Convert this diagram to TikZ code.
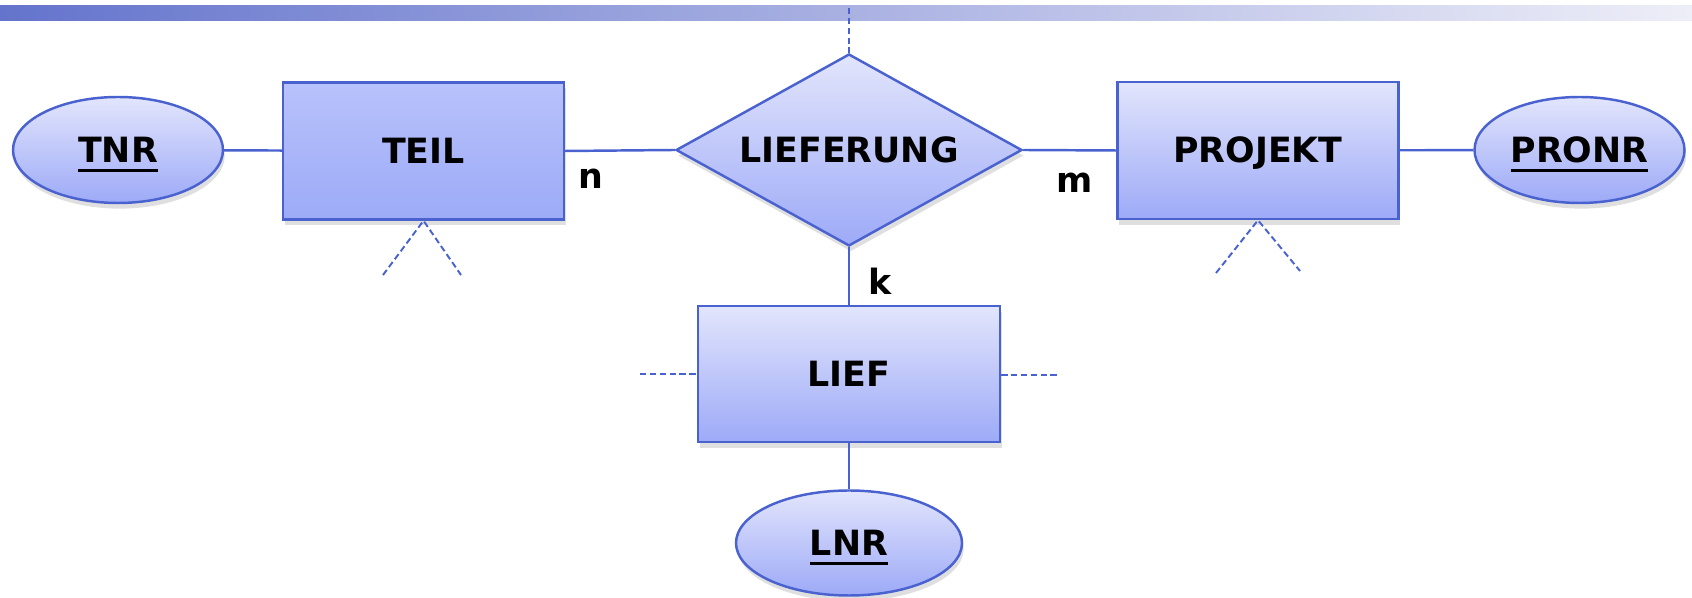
\documentclass[tikz,border=0pt]{standalone}
\usepackage{fontspec}
\setmainfont{DejaVu Sans}
\usetikzlibrary{shapes.geometric,shadows}

\definecolor{erline}{HTML}{4A62D0}
\definecolor{erlight}{HTML}{E2E5FC}
\definecolor{erdark}{HTML}{9DAAF7}
\definecolor{teiltop}{HTML}{B8C2FB}
\definecolor{barleft}{HTML}{6474CC}
\definecolor{barright}{HTML}{EEEEF8}

% underlined key attribute
\newcommand{\keyattr}[1]{\setbox0\hbox{#1}\rlap{#1}\smash{\raisebox{-2.7pt}{\rule{\wd0}{0.85pt}}}}

\begin{document}
\begin{tikzpicture}[
  font=\fontsize{9.9}{12}\selectfont\bfseries,
  shade box/.style={draw=erline, line width=0.7pt, top color=erlight, bottom color=erdark,
    text height=0.70em, text depth=0pt,
    drop shadow={shadow xshift=0.5pt, shadow yshift=-1.6pt, opacity=0.25}},
  entity/.style={shade box, rectangle, inner sep=0pt, minimum width=2.81cm, minimum height=1.37cm},
  relship/.style={shade box, diamond, aspect=1.8, inner sep=0pt, minimum width=3.46cm, minimum height=1.92cm},
  attr/.style={shade box, ellipse, inner sep=0pt, minimum width=2.10cm, minimum height=1.06cm},
  conn/.style={erline, line width=0.7pt},
  hint/.style={erline, line width=0.55pt, dash pattern=on 1.8pt off 1pt}
]
  \useasboundingbox (0,0) rectangle (16.92,5.98);

  % title bar
  \shade[left color=barleft, right color=barright] (0,5.77) rectangle (16.92,5.92);

  % entities and relationship
  \node[relship] (lief-rel) at (8.49,4.48) {LIEFERUNG};
  \node[entity, top color=teiltop] (teil) at (4.235,4.47) {TEIL};
  \node[entity] (projekt) at (12.58,4.475) {PROJEKT};
  \node[entity, minimum width=3.02cm, minimum height=1.36cm] (lief) at (8.49,2.24) {LIEF};

  % key attributes
  \node[attr] (tnr) at (1.18,4.48) {\keyattr{TNR}};
  \node[attr] (pronr) at (15.795,4.48) {\keyattr{PRONR}};
  \node[attr, minimum width=2.26cm, minimum height=1.05cm] (lnr) at (8.49,0.55) {\keyattr{LNR}};

  % connectors
  \draw[conn] (tnr) -- (teil);
  \draw[conn] (teil.east) -- (lief-rel.west);
  \draw[conn] (lief-rel.east) -- (projekt.west);
  \draw[conn] (lief-rel.south) -- (lief.north);
  \draw[conn] (pronr) -- (projekt);
  \draw[conn] (lief) -- (lnr);

  % cardinalities
  \node (card-n) at (5.91,4.19) {n};
  \node (card-m) at (10.75,4.15) {m};
  \node (card-k) at (8.80,3.17) {k};

  % dashed hints
  \coordinate (top-end) at (8.49,5.90);
  \coordinate (teil-l) at (3.83,3.23);
  \coordinate (teil-r) at (4.61,3.23);
  \coordinate (proj-l) at (12.16,3.25);
  \coordinate (proj-r) at (13.00,3.27);
  \coordinate (lief-l) at (6.40,2.24);
  \coordinate (lief-r) at (10.58,2.23);
  \draw[hint] (top-end) -- (lief-rel.north);
  \draw[hint] (teil-l) -- (teil.south) -- (teil-r);
  \draw[hint] (proj-l) -- (projekt.south) -- (proj-r);
  \draw[hint] (lief-l) -- (lief.west);
  \draw[hint] (lief.east |- lief-r) -- (lief-r);
\end{tikzpicture}
\end{document}
